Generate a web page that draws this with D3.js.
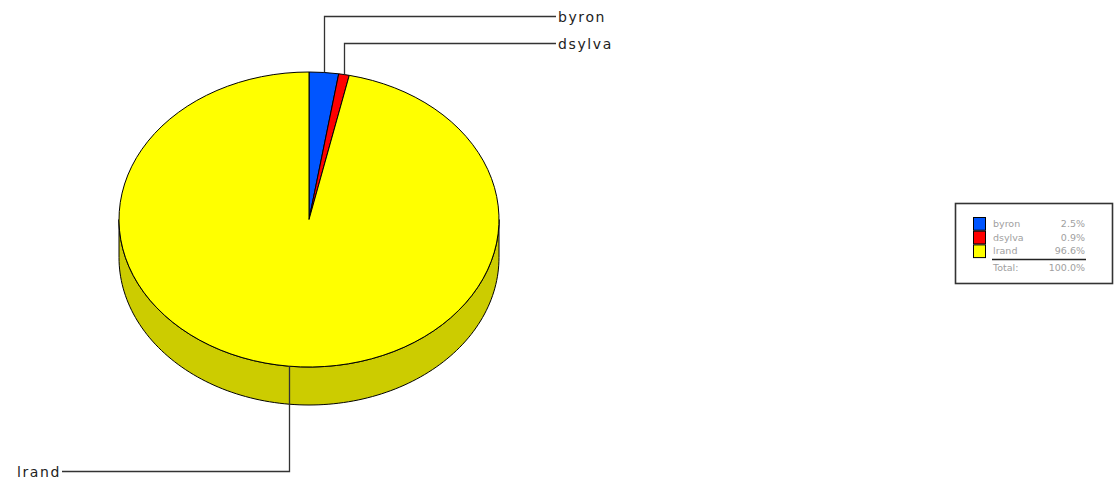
<!DOCTYPE html>
<html>
<head>
<meta charset="utf-8">
<script src="https://cdn.jsdelivr.net/npm/d3@7/dist/d3.min.js"></script>
<style>
html,body{margin:0;padding:0;background:#fff;}
svg{display:block;}
</style>
</head>
<body>
<svg id="chart" width="1116" height="481"></svg>
<script>
const categories = ["byron", "dsylva", "lrand"];
const values = [2.5, 0.9, 96.6];
const colors = ["#0055FF", "#FF0000", "#FFFF00"];
const sideColors = ["#0044CC", "#CC0000", "#CCCC00"];
const totalLabel = "Total:";
const totalValue = "100.0%";

const W = 1116, H = 481;
const cx = 309, cy = 219.5, rx = 190, ry = 147.5, depth = 38;
const svg = d3.select("#chart");

const pie = d3.pie().sort(null).value(d => d).startAngle(0).endAngle(2 * Math.PI);
const arcs = pie(values);

const pt = (a, dy = 0) => [cx + rx * Math.sin(a), cy - ry * Math.cos(a) + dy];

// side walls (front half only)
arcs.forEach((a, i) => {
  const s = Math.max(a.startAngle, Math.PI / 2), e = Math.min(a.endAngle, 3 * Math.PI / 2);
  if (e <= s) return;
  const n = 120;
  const angles = d3.range(n + 1).map(k => s + (e - s) * k / n);
  const top = angles.map(t => pt(t));
  const bot = angles.slice().reverse().map(t => pt(t, depth));
  svg.append("path")
    .attr("d", d3.line()(top.concat(bot)) + "Z")
    .attr("fill", sideColors[i])
    .attr("stroke", "#000")
    .attr("stroke-width", 1);
});

// top face
const arcGen = d3.arc().innerRadius(0).outerRadius(rx);
const topG = svg.append("g").attr("transform", `translate(${cx},${cy}) scale(1,${ry / rx})`);
topG.selectAll("path").data(arcs).join("path")
  .attr("d", arcGen)
  .attr("fill", (d, i) => colors[i])
  .attr("stroke", "#000")
  .attr("stroke-width", 1)
  .attr("vector-effect", "non-scaling-stroke")
  .attr("stroke-linejoin", "round");

// leader lines and labels
const labelY = [16, 43, 471];
const lineColor = "#333";
arcs.forEach((a, i) => {
  const mid = (a.startAngle + a.endAngle) / 2;
  const p = pt(mid);
  const x = Math.round(p[0]) + 0.5;
  const ly = labelY[i] + 0.5;
  let endX, anchor, tx;
  if (Math.sin(mid) >= 0 || Math.cos(mid) > 0) {
    endX = 556; anchor = "start"; tx = 558;
  } else {
    endX = 62; anchor = "end"; tx = 61;
  }
  svg.append("path")
    .attr("d", `M${x},${p[1]}V${ly}H${endX}`)
    .attr("fill", "none")
    .attr("stroke", lineColor)
    .attr("stroke-width", 1.3);
  svg.append("text")
    .attr("x", tx).attr("y", ly + 5)
    .attr("text-anchor", anchor)
    .attr("font-family", "DejaVu Sans, Verdana, sans-serif")
    .attr("font-size", 14)
    .attr("letter-spacing", 1.6)
    .attr("fill", "#222")
    .text(categories[i]);
});

// legend
const lg = svg.append("g");
const lfont = "DejaVu Sans, Verdana, sans-serif";
lg.append("rect").attr("x", 955.5).attr("y", 203.5).attr("width", 157).attr("height", 80)
  .attr("fill", "#fff").attr("stroke", "#333").attr("stroke-width", 1.6);
const rowH = 13.7;
const ly0 = 217;
categories.forEach((c, i) => {
  lg.append("rect")
    .attr("x", 973.5).attr("y", ly0 + i * rowH + 0.5)
    .attr("width", 12).attr("height", rowH - 1)
    .attr("fill", colors[i]).attr("stroke", "#000").attr("stroke-width", 1);
  lg.append("text").attr("x", 993).attr("y", ly0 + i * rowH + 10)
    .attr("font-family", lfont).attr("font-size", 9.5)
    .attr("fill", "#a0a0a0").text(c);
  lg.append("text").attr("x", 1085).attr("y", ly0 + i * rowH + 10)
    .attr("text-anchor", "end")
    .attr("font-family", lfont).attr("font-size", 9.5)
    .attr("fill", "#a0a0a0").text(values[i].toFixed(1) + "%");
});
lg.append("line").attr("x1", 992).attr("x2", 1086).attr("y1", 259.5).attr("y2", 259.5)
  .attr("stroke", "#222").attr("stroke-width", 1.5);
lg.append("text").attr("x", 993).attr("y", 271)
  .attr("font-family", lfont).attr("font-size", 9.5)
  .attr("fill", "#a0a0a0").text(totalLabel);
lg.append("text").attr("x", 1085).attr("y", 271).attr("text-anchor", "end")
  .attr("font-family", lfont).attr("font-size", 9.5)
  .attr("fill", "#a0a0a0").text(totalValue);
</script>
</body>
</html>
